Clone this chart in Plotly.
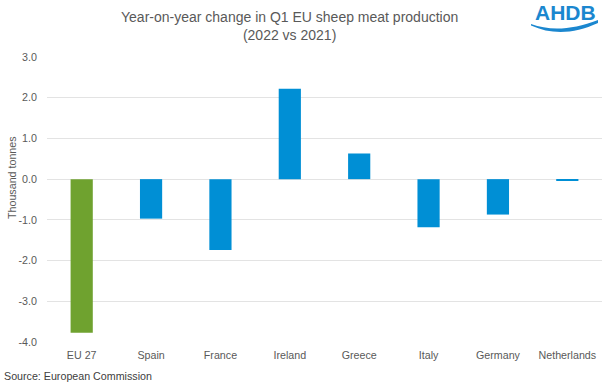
import plotly.graph_objects as go

countries = ["EU 27", "Spain", "France", "Ireland", "Greece", "Italy", "Germany", "Netherlands"]
changes = [-3.77, -0.97, -1.74, 2.22, 0.63, -1.18, -0.87, -0.03]
bar_colors = ["#6FA22F", "#008FD5", "#008FD5", "#008FD5", "#008FD5", "#008FD5", "#008FD5", "#008FD5"]
y_ticks = [3.0, 2.0, 1.0, 0.0, -1.0, -2.0, -3.0, -4.0]

W, H = 602, 384
ML, MR, MT, MB = 47, 0, 57, 42
PW, PH = W - ML - MR, H - MT - MB


def px(x):
    return (x - ML) / PW


def py(y):
    return (H - MB - y) / PH


FONT = "Liberation Sans, Arial, sans-serif"
GREY = "#595959"

fig = go.Figure(go.Bar(
    x=countries, y=changes,
    marker=dict(color=bar_colors, line=dict(width=0)),
    width=0.32,
    hoverinfo="skip",
))

swoosh = (f"M {px(531)},{py(24)} "
          f"C {px(550)},{py(31)} {px(572)},{py(30)} {px(598)},{py(20)} "
          f"L {px(598)},{py(23)} "
          f"C {px(574)},{py(34)} {px(552)},{py(35)} {px(531)},{py(25.5)} Z")

fig.update_layout(
    width=W, height=H,
    margin=dict(l=ML, r=MR, t=MT, b=MB),
    paper_bgcolor="white", plot_bgcolor="white",
    showlegend=False,
    font=dict(family=FONT, color=GREY, size=10.7),
    xaxis=dict(showgrid=False, showline=False, zeroline=False,
               ticks="outside", ticklen=3, tickcolor="rgba(0,0,0,0)",
               tickfont=dict(size=10.7, color=GREY), fixedrange=True),
    yaxis=dict(range=[-4, 3], tickvals=y_ticks,
               ticktext=[f"{v:.1f}" for v in y_ticks],
               showgrid=True, gridcolor="#E3E3E3", gridwidth=1,
               zeroline=True, zerolinecolor="#E3E3E3", zerolinewidth=1,
               showline=False, ticks="outside", ticklen=7,
               tickcolor="rgba(0,0,0,0)",
               tickfont=dict(size=10.7, color=GREY), fixedrange=True),
    annotations=[
        dict(text="Year-on-year change in Q1 EU sheep meat production<br>(2022 vs 2021)",
             xref="paper", yref="paper", x=px(289), y=py(26), xanchor="center",
             yanchor="middle", showarrow=False,
             font=dict(size=14, color=GREY, family=FONT)),
        dict(text="Thousand tonnes", textangle=-90,
             xref="paper", yref="paper", x=px(12), y=py(178),
             xanchor="center", yanchor="middle", showarrow=False,
             font=dict(size=10.7, color=GREY, family=FONT)),
        dict(text="Source: European Commission",
             xref="paper", yref="paper", x=px(2), y=py(376),
             xanchor="left", yanchor="middle", showarrow=False,
             font=dict(size=10.7, color="#404040", family=FONT)),
        dict(text="<b>AHDB</b>",
             xref="paper", yref="paper", x=px(565), y=py(12.5),
             xanchor="center", yanchor="middle", showarrow=False,
             font=dict(size=21, color="#1B87CF", family=FONT)),
    ],
    shapes=[dict(type="path", path=swoosh, xref="paper", yref="paper",
                 fillcolor="#1B87CF", line=dict(width=0))],
)

fig.write_html("out.html",
               config={"displayModeBar": False},
               post_script="document.body.style.margin='0';document.body.style.overflow='hidden';")
